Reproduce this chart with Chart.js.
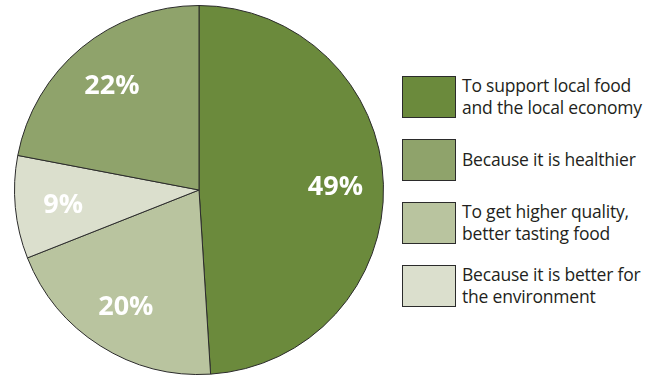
<!DOCTYPE html>
<html>
<head>
<meta charset="utf-8">
<script src="https://cdn.jsdelivr.net/npm/chart.js@4"></script>
<style>
  body { margin: 0; background: #fff; width: 650px; height: 379px; position: relative; overflow: hidden; }
  #wrap { position: absolute; left: 0; top: 0; width: 398px; height: 379px; }
  #legend { position: absolute; left: 402px; top: 76px; font-family: "Open Sans", sans-serif; font-size: 17.5px; color: #231f20; }
  .item { position: relative; height: 63px; }
  .box { position: absolute; left: 0; top: 0; width: 52px; height: 40px; border: 1px solid #2b2b2b; }
  .txt { position: absolute; left: 60px; top: -2px; line-height: 22px; white-space: nowrap; letter-spacing: -0.2px; }
</style>
</head>
<body>
<div id="wrap"><canvas id="pie"></canvas></div>
<div id="legend"></div>
<script>
// slices in clockwise order from the top
const categories = [
    ["To support local food", "and the local economy"],
    ["To get higher quality,", "better tasting food"],
    ["Because it is better for", "the environment"],
    ["Because it is healthier"]
];
const values = [49, 20, 9, 22];
const colors = ["#6b8a3c", "#b9c49f", "#dbdfcd", "#8fa36b"];
const legendOrder = [0, 3, 1, 2];

const legend = document.getElementById("legend");
legendOrder.forEach(i => {
    const item = document.createElement("div");
    item.className = "item";
    const box = document.createElement("div");
    box.className = "box";
    box.style.backgroundColor = colors[i];
    const txt = document.createElement("div");
    txt.className = "txt";
    txt.innerHTML = categories[i].join("<br>");
    if (categories[i].length === 1) txt.style.top = "9px";
    item.appendChild(box);
    item.appendChild(txt);
    legend.appendChild(item);
});

const pctLabels = {
    id: "pctLabels",
    afterDatasetsDraw(chart) {
        const ctx = chart.ctx;
        const meta = chart.getDatasetMeta(0);
        ctx.save();
        ctx.fillStyle = "#ffffff";
        ctx.font = "bold 27px 'Open Sans', sans-serif";
        ctx.textAlign = "center";
        ctx.textBaseline = "middle";
        meta.data.forEach((arc, i) => {
            const p = arc.getProps(["x", "y", "startAngle", "endAngle", "outerRadius"], true);
            const mid = (p.startAngle + p.endAngle) / 2;
            const r = p.outerRadius * 0.74;
            ctx.fillText(values[i] + "%", p.x + Math.cos(mid) * r, p.y + Math.sin(mid) * r + 2);
        });
        ctx.restore();
    }
};

new Chart(document.getElementById("pie"), {
    type: "pie",
    data: {
        labels: categories.map(c => c.join(" ")),
        datasets: [{
            data: values,
            backgroundColor: colors,
            borderColor: "#2b2b2b",
            borderWidth: 1
        }]
    },
    options: {
        responsive: true,
        maintainAspectRatio: false,
        animation: false,
        layout: { padding: { top: 5, bottom: 4 } },
        plugins: {
            legend: { display: false },
            tooltip: { enabled: false }
        }
    },
    plugins: [pctLabels]
});
</script>
</body>
</html>
